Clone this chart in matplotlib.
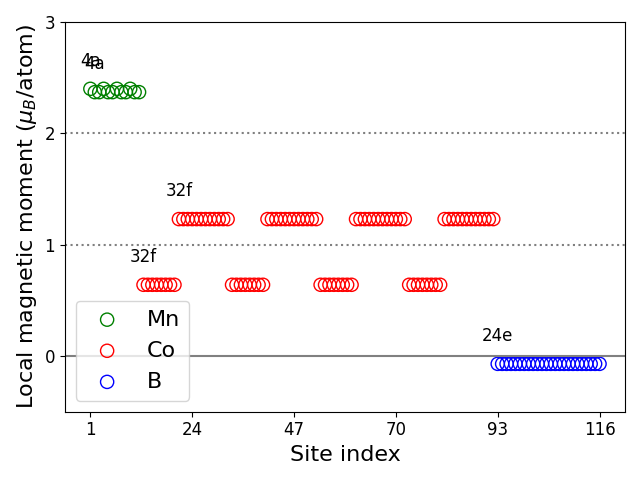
import matplotlib
matplotlib.use("Agg")
import matplotlib.pyplot as plt

# site indices and local moments (muB/atom)
mn_sites = list(range(1, 13))
mn_moments = [2.40, 2.37, 2.37, 2.40, 2.37, 2.37, 2.40, 2.37, 2.37, 2.40, 2.37, 2.37]

co_sites = list(range(13, 93))
co_low, co_high = 0.64, 1.23
co_moments = ([co_low] * 8 + [co_high] * 12) * 4

b_sites = list(range(93, 117))
b_moments = [-0.07] * 24

# Wyckoff labels: (site, moment, text)
wyckoff = [(1, 2.40, "4a"), (2, 2.37, "4a"), (13, co_low, "32f"),
           (21, co_high, "32f"), (93, -0.07, "24e")]

xticks = [1, 24, 47, 70, 93, 116]

fig, ax = plt.subplots(figsize=(6.4, 4.8), dpi=100)
ax.scatter(mn_sites, mn_moments, s=90, facecolors="none", edgecolors="green", label="Mn")
ax.scatter(co_sites, co_moments, s=90, facecolors="none", edgecolors="red", label="Co")
ax.scatter(b_sites, b_moments, s=90, facecolors="none", edgecolors="blue", label="B")

for site, m, txt in wyckoff:
    ax.text(site, m + 0.25, txt, ha="center", va="center", fontsize=12)

ax.axhline(0, color="gray", lw=1.5)
ax.axhline(1, color="gray", ls=":", lw=1.5)
ax.axhline(2, color="gray", ls=":", lw=1.5)

ax.set_ylim(-0.5, 3)
ax.set_yticks([0, 1, 2, 3])
ax.set_xticks(xticks)
ax.tick_params(labelsize=12)
ax.set_xlabel("Site index", fontsize=16)
ax.set_ylabel(r"Local magnetic moment ($\mu_B$/atom)", fontsize=16)
ax.legend(loc="lower left", fontsize=16)
fig.tight_layout()
fig.savefig("out.png", dpi=100)
